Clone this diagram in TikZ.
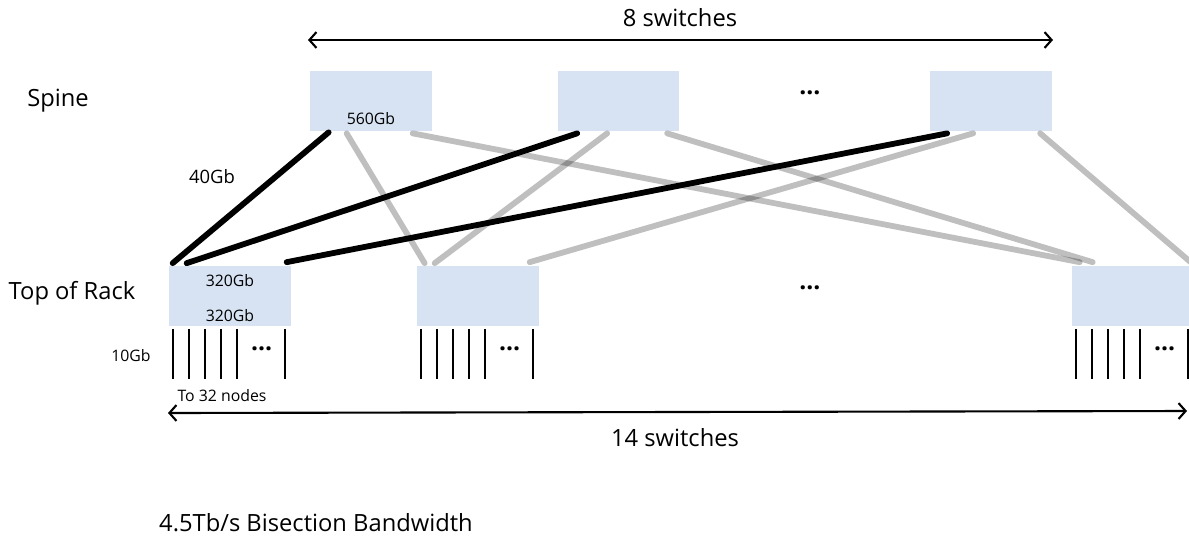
\documentclass[tikz,border=0pt]{standalone}
\usepackage{fontspec}
\setmainfont{Open Sans}
\usetikzlibrary{calc,arrows.meta}
\definecolor{boxblue}{RGB}{215,227,242}

\begin{document}
\begin{tikzpicture}[x=0.02cm,y=-0.02cm,
  switch/.style={fill=boxblue,minimum width=2.44cm,minimum height=1.2cm,inner sep=0pt},
  uplink/.style={line width=3.3pt,line cap=round,black},
  crosslink/.style={line width=3.3pt,line cap=round,black,draw opacity=0.25},
  port/.style={line width=1pt},
  span/.style={line width=1.2pt,{Straight Barb[length=4pt,width=9pt]}-{Straight Barb[length=4pt,width=9pt]}},
  big/.style={font=\fontsize{13.5}{16}\selectfont},
  dots/.style={font=\fontsize{14}{16}\selectfont\bfseries,anchor=base},
  mid/.style={font=\fontsize{10.5}{12}\selectfont},
  small/.style={font=\fontsize{9}{11}\selectfont}]
\useasboundingbox (0,0) rectangle (1189,538);
\clip (0,0) rectangle (1189,538);

% spine and top of rack switches
\node[switch] (s1) at (371,101) {};
\node[switch] (s2) at (618.5,101) {};
\node[switch] (s3) at (990.5,101) {};
\node[switch] (t1) at (230,295.5) {};
\node[switch] (t2) at (478,295.5) {};
\node[switch] (t3) at (1133,295.5) {};
\node[dots] (sdots) at (810,94) {…};
\node[dots] (tdots) at (810,289) {…};

% ports down to the nodes
\foreach \t in {t1,t2,t3}{
  \foreach \dx in {4,20,36,52,68,116}{\draw[port] ($(\t.south west)+(\dx,3)$) -- ++(0,50);}
  \node[dots] (\t dots) at ($(\t.south west)+(93,25)$) {…};
}

% gray links
\draw[crosslink] ($(s1.south west)+(37,2)$) -- ($(t2.north west)+(8,-2)$);
\draw[crosslink] ($(s1.south west)+(103,2)$) -- ($(t3.north west)+(8,-3)$);
\draw[crosslink] ($(s2.south west)+(50,2)$) -- ($(t2.north west)+(18,-2)$);
\draw[crosslink] ($(s2.south west)+(110,2)$) -- ($(t3.north west)+(21,-3)$);
\draw[crosslink] ($(s3.south west)+(44,2)$) -- ($(t2.north west)+(113,-3)$);
\draw[crosslink] ($(s3.south west)+(111,2)$) -- ($(t3.north west)+(119,-3)$);
% black links to the first rack
\draw[uplink] ($(s1.south west)+(19,1)$) -- ($(t1.north west)+(4,-2)$);
\draw[uplink] ($(s2.south west)+(20,2)$) -- ($(t1.north west)+(18,-2)$);
\draw[uplink] ($(s3.south west)+(18,2)$) -- ($(t1.north west)+(118,-3)$);

% labels
\node[small] (bw1) at ($(s1.south)+(0,-13)$) {560Gb};
\node[small] (bw2) at ($(t1.north)+(0,15)$) {320Gb};
\node[small] (bw3) at ($(t1.south)+(0,-10)$) {320Gb};
\node[mid] (bw4) at (212,177) {40Gb};
\node[small] (bw5) at (131,356) {10Gb};
\node[small] (nodes) at (222,396) {To 32 nodes};
\node[big] (spine) at (58,101) {Spine};
\node[big] (tor) at (72,293) {Top of Rack};

% spans
\coordinate (a8l) at (308,40);
\coordinate (a8r) at (1053,40);
\draw[span] (a8l) -- (a8r);
\node[big] (n8) at (680,18) {8 switches};
\coordinate (a14l) at (168,413);
\coordinate (a14r) at (1187,411);
\draw[span] (a14l) -- (a14r);
\node[big] (n14) at (675,438) {14 switches};
\node[big] (bisec) at (316,523) {4.5Tb/s Bisection Bandwidth};
\end{tikzpicture}
\end{document}
